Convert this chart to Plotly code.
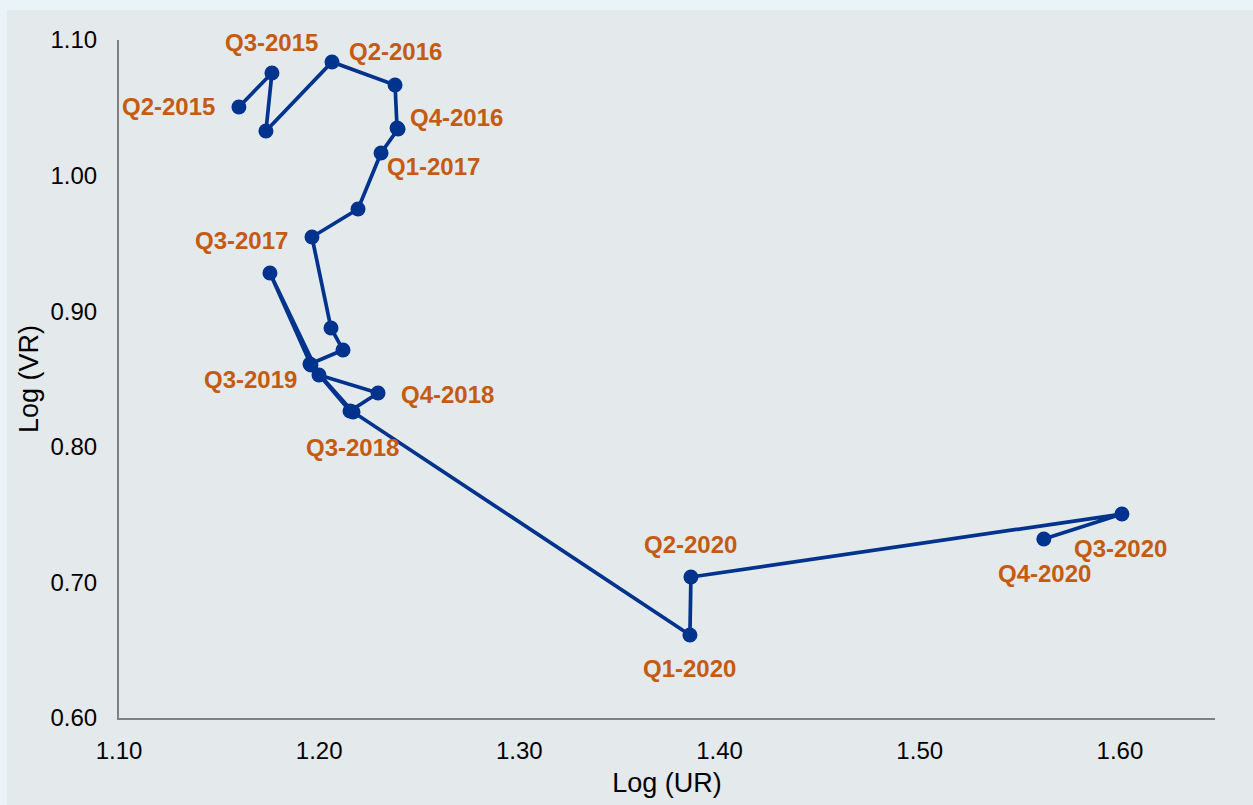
import plotly.graph_objects as go

# ---- data ----
quarters = [
    "Q2-2015", "Q3-2015", "Q4-2015",
    "Q1-2016", "Q2-2016", "Q3-2016", "Q4-2016",
    "Q1-2017", "Q2-2017", "Q3-2017", "Q4-2017",
    "Q1-2018", "Q2-2018", "Q3-2018", "Q4-2018",
    "Q1-2019", "Q2-2019", "Q3-2019", "Q4-2019",
    "Q1-2020", "Q2-2020", "Q3-2020", "Q4-2020",
]
log_ur = [
    1.1599, 1.1764, 1.1734,
    1.2064, 1.2379, 1.2389, 1.2394,
    1.2309, 1.2194, 1.1964, 1.2059,
    1.2119, 1.1954, 1.2154, 1.2294,
    1.1999, 1.1754, 1.1959, 1.2169,
    1.3852, 1.3857, 1.6010, 1.5620,
]
log_vr = [
    1.0506, 1.0757, 1.0329,
    1.0838, 1.0668, 1.0351, 1.0344,
    1.0167, 0.9754, 0.9547, 0.8876,
    0.8714, 0.8611, 0.8264, 0.8397,
    0.8529, 0.9282, 0.8603, 0.8257,
    0.6612, 0.7040, 0.7504, 0.7320,
]
labelled = ["Q2-2015", "Q3-2015", "Q2-2016", "Q4-2016", "Q1-2017", "Q3-2017",
            "Q3-2018", "Q4-2018", "Q3-2019", "Q1-2020", "Q2-2020", "Q3-2020", "Q4-2020"]
x_ticks = [1.10, 1.20, 1.30, 1.40, 1.50, 1.60]
y_ticks = [0.60, 0.70, 0.80, 0.90, 1.00, 1.10]

# ---- style (label offsets in pixels) ----
label_offsets = {
    "Q2-2015": (-70, 0), "Q3-2015": (0, 30), "Q2-2016": (0, 34),
    "Q4-2016": (58, 11), "Q1-2017": (52, -14), "Q3-2017": (-70, -3),
    "Q3-2018": (2, -36), "Q4-2018": (69, -2), "Q3-2019": (-60, -14),
    "Q1-2020": (0, -33), "Q2-2020": (0, 32), "Q3-2020": (-1, -34),
    "Q4-2020": (1, -34),
}

NAVY = "#00338D"
ORANGE = "#C55A11"
BG = "#E4E9EC"
STRIP = "#EAF3F7"
FONT = "Liberation Sans, Arial, sans-serif"

fig = go.Figure()
fig.add_trace(go.Scatter(
    x=log_ur, y=log_vr, mode="lines+markers",
    line=dict(color=NAVY, width=3.7),
    marker=dict(color=NAVY, size=15),
    text=quarters, hoverinfo="text+x+y", showlegend=False,
))

for q in labelled:
    i = quarters.index(q)
    dx, dy = label_offsets[q]
    fig.add_annotation(
        x=log_ur[i], y=log_vr[i], text=q, showarrow=False,
        xshift=dx, yshift=dy, xanchor="center", yanchor="middle",
        font=dict(family=FONT, size=24, color=ORANGE, weight="bold"),
    )

# light outer strips (top and left)
fig.add_shape(type="rect", xref="paper", yref="paper",
              x0=-0.2, x1=1.2, y0=(718 - 10) / 678, y1=1.2,
              fillcolor=STRIP, line_width=0, layer="below")
fig.add_shape(type="rect", xref="paper", yref="paper",
              x0=-0.2, x1=(7 - 119) / 1096, y0=-0.3, y1=1.2,
              fillcolor=STRIP, line_width=0, layer="below")

fig.update_layout(
    width=1253, height=805,
    margin=dict(l=119, r=38, t=40, b=87),
    paper_bgcolor=BG, plot_bgcolor=BG,
    font=dict(family=FONT, size=24, color="#000000"),
)
fig.update_xaxes(
    range=[1.10, 1.6475], tickvals=x_ticks, tickformat=".2f",
    showgrid=False, zeroline=False, showline=True,
    linecolor="#808080", linewidth=2, ticks="",
    ticklabelstandoff=10,
    title=dict(text="Log (UR)", font=dict(size=27), standoff=10),
)
fig.update_yaxes(
    range=[0.60, 1.10], tickvals=y_ticks, tickformat=".2f",
    showgrid=False, zeroline=False, showline=True,
    linecolor="#808080", linewidth=2, ticks="",
    ticklabelstandoff=15,
    title=dict(text="Log (VR)", font=dict(size=27), standoff=4),
)

fig.write_html("out.html")
